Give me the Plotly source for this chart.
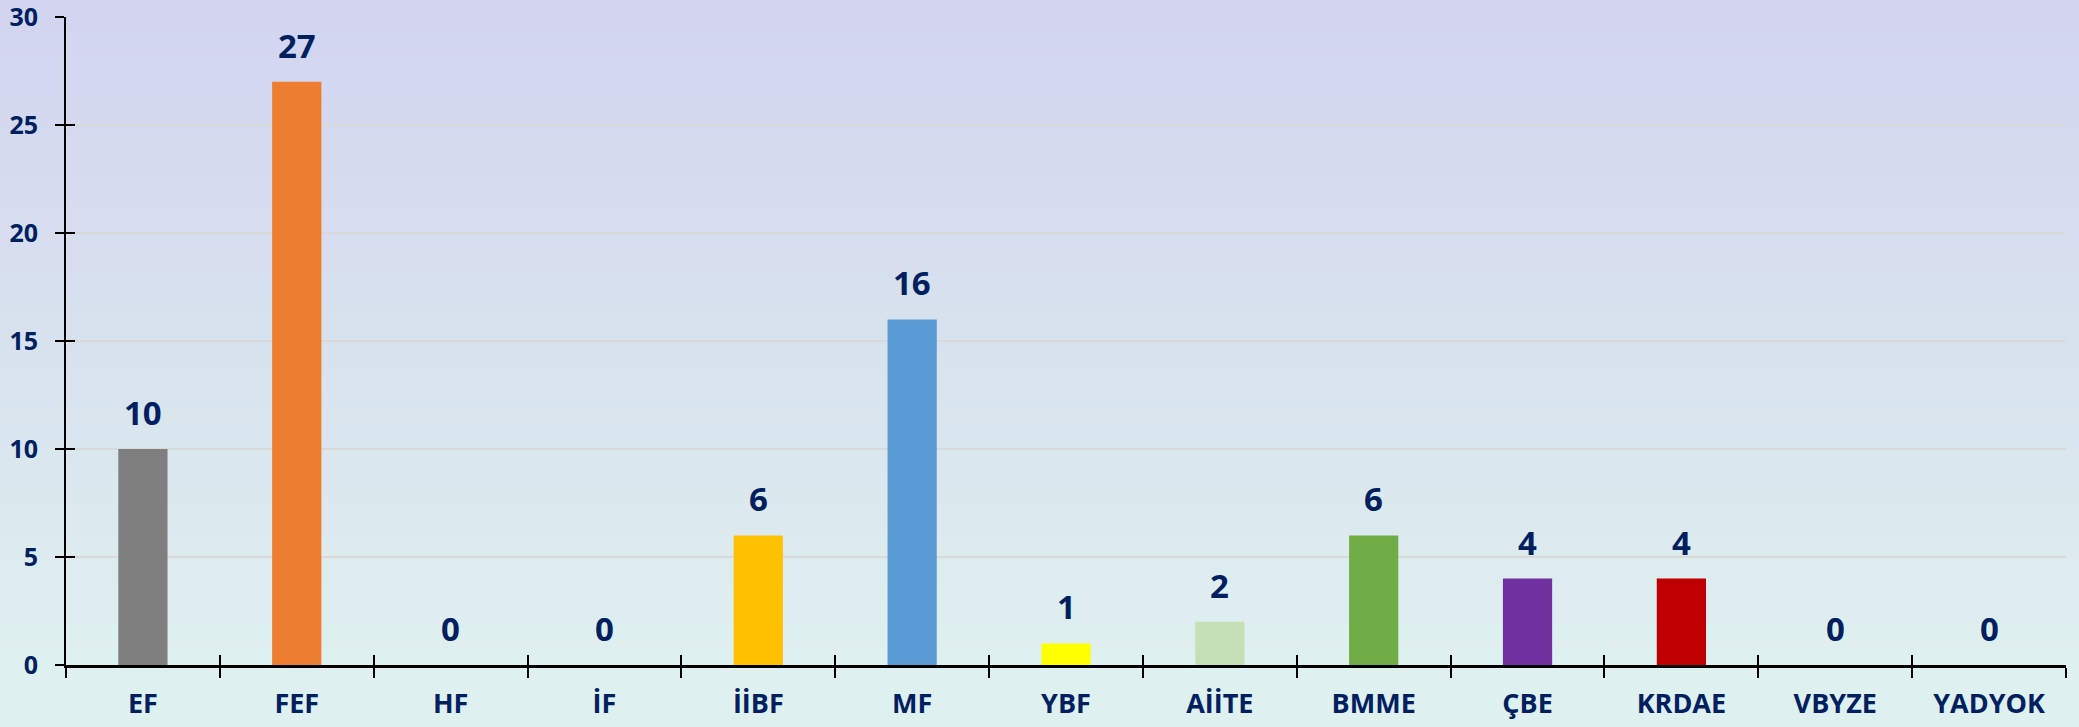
import plotly.graph_objects as go

categories = ["EF", "FEF", "HF", "İF", "İİBF", "MF", "YBF", "AİİTE", "BMME", "ÇBE", "KRDAE", "VBYZE", "YADYOK"]
values = [10, 27, 0, 0, 6, 16, 1, 2, 6, 4, 4, 0, 0]
bar_colors = ["#7F7F7F", "#ED7D31", "#A5A5A5", "#A5A5A5", "#FFC000", "#5B9BD5", "#FFFF00",
              "#C5E0B4", "#70AD47", "#7030A0", "#C00000", "#A5A5A5", "#A5A5A5"]
y_ticks = [0, 5, 10, 15, 20, 25, 30]

NAVY = "#002060"
FONT = "Open Sans"

fig = go.Figure()
fig.add_trace(go.Bar(
    x=categories, y=values, marker=dict(color=bar_colors, line=dict(width=0)),
    hoverinfo="skip",
))
# invisible trace on secondary axes for crossing ticks
fig.add_trace(go.Bar(x=categories, y=[0]*len(categories), xaxis="x2", yaxis="y2",
                     marker=dict(opacity=0), hoverinfo="skip", showlegend=False))

annotations = [dict(x=c, y=v, xref="x", yref="y", text=str(v), showarrow=False,
                    yanchor="bottom", yshift=12,
                    font=dict(family=FONT, size=33, color=NAVY, weight="bold"))
               for c, v in zip(categories, values)]

# gradient background
top = (0xD3, 0xD5, 0xF0)
mid = (0xD8, 0xE2, 0xEE)
bot = (0xDF, 0xF0, 0xF0)
N = 80
shapes = []
for i in range(N):
    t = i / (N - 1)
    if t < 0.5:
        a, b, u = top, mid, t / 0.5
    else:
        a, b, u = mid, bot, (t - 0.5) / 0.5
    c = tuple(round(a[k] + (b[k] - a[k]) * u) for k in range(3))
    y1 = 1 - i / N
    y0 = 1 - (i + 1) / N
    shapes.append(dict(type="rect", xref="paper", yref="paper", x0=-0.05, x1=1.02,
                       y0=y0 - 0.02 - (0.2 if i == N - 1 else 0), y1=y1 + (0.03 if i == 0 else 0.0),
                       fillcolor="rgb(%d,%d,%d)" % c, line=dict(width=0), layer="below"))

YR = [0, 30]

fig.update_layout(
    width=2079, height=727,
    margin=dict(l=66, r=13, t=17, b=62),
    paper_bgcolor="rgb(217,226,238)",
    plot_bgcolor="rgba(0,0,0,0)",
    shapes=shapes,
    annotations=annotations,
    showlegend=False,
    bargap=0.68,
    font=dict(family=FONT, color=NAVY),
    xaxis=dict(type="category", tickson="boundaries", ticks="outside", ticklen=10,
               tickwidth=2, tickcolor="black", showline=True, linecolor="black", linewidth=3,
               showgrid=False, tickfont=dict(family=FONT, size=27, color=NAVY, weight="bold"),
               ticklabelstandoff=13, zeroline=False, automargin=False),
    yaxis=dict(range=YR, tickvals=y_ticks, ticks="outside", ticklen=9, tickwidth=2,
               tickcolor="black", showline=True, linecolor="black", linewidth=2,
               showgrid=True, gridcolor="#D9D9D9", gridwidth=1.5, zeroline=False,
               tickfont=dict(family=FONT, size=25, color=NAVY, weight="bold"),
               ticklabelstandoff=12, automargin=False, ticklabeloverflow="allow"),
    xaxis2=dict(type="category", overlaying="x", matches="x", tickson="boundaries", ticks="inside",
                ticklen=10, tickwidth=2, tickcolor="black", showticklabels=False,
                showgrid=False, showline=False, anchor="y2", side="bottom", zeroline=False,
                automargin=False),
    yaxis2=dict(range=YR, overlaying="y", tickvals=y_ticks, ticks="inside", ticklen=9,
                tickwidth=2, tickcolor="black", showticklabels=False, showgrid=False,
                showline=False, zeroline=False, anchor="x2", side="left", automargin=False),
)

fig.write_html("out.html", config={"displayModeBar": False},
               post_script="document.body.style.margin='0';document.body.style.overflow='hidden';")
